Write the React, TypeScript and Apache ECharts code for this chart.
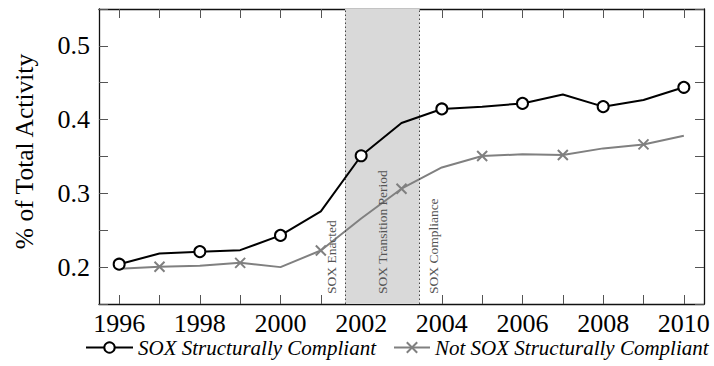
import React, { useEffect, useRef } from "react";
import * as echarts from "echarts";

const years = [1996, 1997, 1998, 1999, 2000, 2001, 2002, 2003, 2004, 2005, 2006, 2007, 2008, 2009, 2010];
const compliant = [0.204, 0.2185, 0.221, 0.223, 0.243, 0.2755, 0.351, 0.3955, 0.4145, 0.4176, 0.422, 0.434, 0.4176, 0.4267, 0.4438];
const notCompliant = [0.1977, 0.2004, 0.202, 0.2058, 0.2, 0.2226, 0.266, 0.3063, 0.3352, 0.3507, 0.3529, 0.352, 0.361, 0.3664, 0.378];
const compliantMarkerYears = [1996, 1998, 2000, 2002, 2004, 2006, 2008, 2010];
const notCompliantMarkerYears = [1997, 1999, 2001, 2003, 2005, 2007, 2009];
const xLabelYears = [1996, 1998, 2000, 2002, 2004, 2006, 2008, 2010];
const seriesNames = ["SOX Structurally Compliant", "Not SOX Structurally Compliant"];
const enactedYear = 2001.6;
const complianceYear = 2003.45;
const annotationLabels = ["SOX Enacted", "SOX Transition Period", "SOX Compliance"];
const yAxisTitle = "% of Total Activity";

const FONT = "Liberation Serif";
const CROSS = "path://M0,0L10,10M10,0L0,10";

export default function App() {
  const ref = useRef<HTMLDivElement>(null);

  useEffect(() => {
    if (!ref.current) return;
    const chart = echarts.init(ref.current, undefined, { renderer: "svg" });

    const tickStyle = { color: "#555", width: 1 };
    const axisLine = { show: true, onZero: false, lineStyle: { color: "#111", width: 1.3 } };

    const annLabel = {
      show: true,
      color: "#555",
      fontFamily: FONT,
      fontSize: 13.5,
      distance: [10, 7],
    };
    const dotted = { type: [1.5, 2.5], color: "#444", width: 1 };
    const legendText = { fontFamily: FONT, fontStyle: "italic", fontSize: 21, lineHeight: 20, color: "#000" };

    const option: any = {
      animation: false,
      backgroundColor: "#fff",
      textStyle: { fontFamily: FONT },
      grid: { left: 99, right: 10, top: 9, bottom: 62 },
      legend: [
        {
          data: [seriesNames[0]],
          left: 85,
          top: 337,
          itemWidth: 47,
          itemHeight: 13,
          padding: 0,
          selectedMode: false,
          textStyle: legendText,
        },
        {
          data: [seriesNames[1]],
          left: 393,
          top: 337,
          itemWidth: 36,
          itemHeight: 13,
          padding: 0,
          selectedMode: false,
          textStyle: legendText,
        },
      ],
      xAxis: [
        {
          type: "value",
          min: 1995.5,
          max: 2010.5,
          position: "bottom",
          axisLine,
          splitLine: { show: false },
          axisTick: { show: true, inside: true, length: 9, customValues: years, lineStyle: tickStyle },
          axisLabel: {
            customValues: xLabelYears,
            formatter: (v: number) => String(v),
            fontFamily: FONT,
            fontSize: 26,
            lineHeight: 22,
            color: "#000",
            margin: 8,
          },
        },
        {
          type: "value",
          min: 1995.5,
          max: 2010.5,
          position: "top",
          axisLine,
          splitLine: { show: false },
          axisTick: { show: true, inside: true, length: 9, customValues: years, lineStyle: tickStyle },
          axisLabel: { show: false },
        },
      ],
      yAxis: [
        {
          type: "value",
          min: 0.15,
          max: 0.55,
          interval: 0.05,
          position: "left",
          axisLine,
          splitLine: { show: false },
          axisTick: { show: true, inside: true, length: 9, lineStyle: tickStyle },
          axisLabel: {
            formatter: (v: number) => (Math.abs(v * 10 - Math.round(v * 10)) < 1e-6 ? v.toFixed(1) : ""),
            fontFamily: FONT,
            fontSize: 26,
            color: "#000",
            margin: 9,
          },
          name: yAxisTitle,
          nameLocation: "middle",
          nameRotate: 90,
          nameGap: 62,
          nameTextStyle: { fontFamily: FONT, fontSize: 25.5, color: "#000", padding: [0, 0, 0, 10] },
        },
        {
          type: "value",
          min: 0.15,
          max: 0.55,
          interval: 0.05,
          position: "right",
          axisLine,
          splitLine: { show: false },
          axisTick: { show: true, inside: true, length: 9, lineStyle: tickStyle },
          axisLabel: { show: false },
        },
      ],
      series: [
        {
          name: seriesNames[0],
          type: "line",
          xAxisIndex: 0,
          yAxisIndex: 0,
          symbol: "circle",
          symbolSize: 11,
          z: 4,
          lineStyle: { color: "#000", width: 2 },
          itemStyle: { color: "#fff", borderColor: "#000", borderWidth: 2 },
          data: years.map((y, i) => ({
            value: [y, compliant[i]],
            symbol: compliantMarkerYears.includes(y) ? "circle" : "none",
          })),
        },
        {
          name: seriesNames[1],
          type: "line",
          xAxisIndex: 0,
          yAxisIndex: 0,
          symbol: CROSS,
          symbolSize: 10,
          z: 3,
          lineStyle: { color: "#808080", width: 2 },
          itemStyle: { color: "#808080", borderColor: "#808080", borderWidth: 2 },
          data: years.map((y, i) => ({
            value: [y, notCompliant[i]],
            symbol: notCompliantMarkerYears.includes(y) ? CROSS : "none",
          })),
          markArea: {
            silent: true,
            itemStyle: { color: "#d9d9d9" },
            data: [[{ xAxis: enactedYear }, { xAxis: complianceYear }]],
          },
          markLine: {
            silent: true,
            symbol: ["none", "none"],
            data: [
              {
                xAxis: enactedYear,
                lineStyle: dotted,
                label: { ...annLabel, position: "insideStartTop", formatter: annotationLabels[0] },
              },
              {
                xAxis: (enactedYear + complianceYear) / 2,
                lineStyle: { color: "rgba(0,0,0,0)", width: 0 },
                label: { ...annLabel, position: "insideStart", formatter: annotationLabels[1] },
              },
              {
                xAxis: complianceYear,
                lineStyle: dotted,
                label: { ...annLabel, position: "insideStartBottom", formatter: annotationLabels[2] },
              },
            ],
          },
        },
      ],
    };

    chart.setOption(option);
    return () => chart.dispose();
  }, []);

  return <div ref={ref} style={{ width: 714, height: 366, position: "absolute", left: 0, top: 0 }} />;
}
